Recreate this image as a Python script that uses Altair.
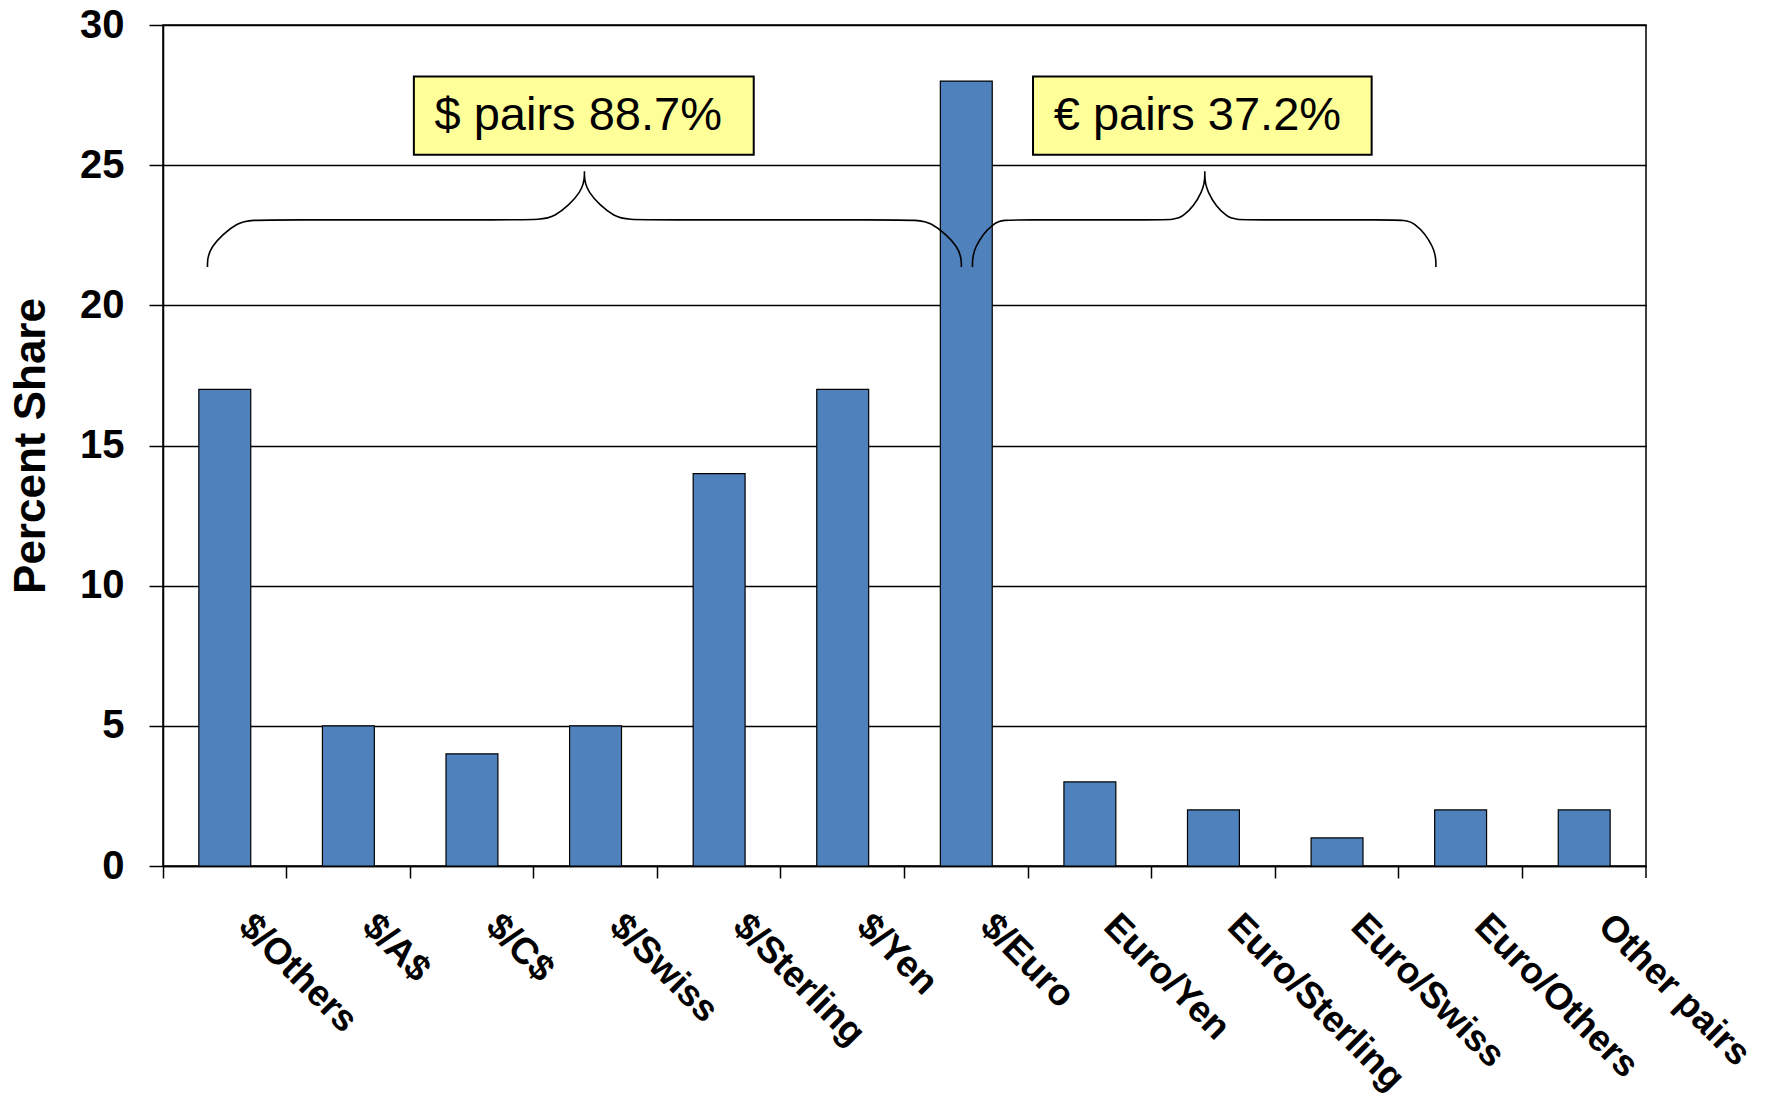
import altair as alt
import pandas as pd

# ---------------- data ----------------
categories = ["$/Others", "$/A$", "$/C$", "$/Swiss", "$/Sterling", "$/Yen", "$/Euro",
              "Euro/Yen", "Euro/Sterling", "Euro/Swiss", "Euro/Others", "Other pairs"]
shares = [17, 5, 4, 5, 14, 17, 28, 3, 2, 1, 2, 2]

box_labels = ["$ pairs 88.7%", "€ pairs 37.2%"]
box_left = [2.03, 7.04]
box_right = [4.78, 9.78]
box_bottom = [25.37, 25.37]
box_top = [28.16, 28.16]
label_x = [3.36, 8.37]
label_y = [26.77, 26.77]

brace_start = [0.36, 6.55]
brace_tip = [3.41, 8.43]
brace_end = [6.46, 10.30]
brace_arc = [0.42, 0.30]
brace_low = 21.37
brace_mid = 23.05
brace_top = 24.78

# ---------------- tables ----------------
df = pd.DataFrame({"pair": categories, "share": shares})

hl = brace_mid - brace_low
ht = brace_top - brace_mid
rows = []
for b, (s, t, e, w) in enumerate(zip(brace_start, brace_tip, brace_end, brace_arc)):
    pts = [(s, brace_low), (s, brace_mid - 0.6 * hl), (s + 0.6 * w, brace_mid), (s + w, brace_mid),
           (t - w, brace_mid), (t - 0.6 * w, brace_mid), (t, brace_mid + 0.6 * ht),
           (t, brace_top), (t, brace_top), (t, brace_top),
           (t, brace_mid + 0.6 * ht), (t + 0.6 * w, brace_mid), (t + w, brace_mid),
           (e - w, brace_mid), (e - 0.6 * w, brace_mid), (e, brace_mid - 0.6 * hl), (e, brace_low)]
    for k, (x, y) in enumerate(pts):
        rows.append({"brace": b, "k": k, "x": x, "y": y})
bdf = pd.DataFrame(rows)

boxdf = pd.DataFrame({"label": box_labels, "x1": box_left, "x2": box_right,
                      "y1": box_bottom, "y2": box_top, "tx": label_x, "ty": label_y})

W, H = 1483, 841
FONT = "Liberation Sans"

yscale = alt.Scale(domain=[0, 30], nice=False, zero=True)
xq = alt.Scale(domain=[0, 12], nice=False, zero=False)

yaxis = alt.Axis(title="Percent Share", values=[0, 5, 10, 15, 20, 25, 30],
                 grid=True, gridColor="black", gridWidth=1.5,
                 domainColor="black", domainWidth=1.5,
                 tickColor="black", tickSize=14, tickWidth=1.5,
                 labelFontSize=40, labelFontWeight="bold", labelColor="black", labelPadding=25,
                 titleFontSize=44, titleFontWeight="bold", titleColor="black",
                 titlePadding=26)

bars = alt.Chart(df).mark_bar(color="#4F81BD", stroke="black", strokeWidth=1.2,
                              width=alt.RelativeBandSize(0.42)).encode(
    x=alt.X("pair:N", sort=categories,
            scale=alt.Scale(paddingInner=0, paddingOuter=0),
            axis=alt.Axis(title=None, labelAngle=45, labelAlign="left", labelBaseline="middle",
                          labelFontSize=37, labelFontWeight="bold", labelColor="black",
                          labelPadding=42, labelOffset=20, labelOverlap=False, labelLimit=0,
                          labelBound=False, labelFlush=False,
                          tickSize=12, tickColor="black", tickWidth=1.5, bandPosition=0,
                          domainColor="black", domainWidth=1.5, grid=False)),
    y=alt.Y("share:Q", scale=yscale, axis=yaxis),
)

braces = alt.Chart(bdf).mark_line(color="black", strokeWidth=1.6, interpolate="basis").encode(
    x=alt.X("x:Q", scale=xq, axis=None),
    y=alt.Y("y:Q", scale=yscale, axis=yaxis),
    detail="brace:N",
    order="k:Q",
)

boxes = alt.Chart(boxdf).mark_rect(fill="#FFFF99", stroke="black", strokeWidth=2).encode(
    x=alt.X("x1:Q", scale=xq, axis=None), x2="x2:Q",
    y=alt.Y("y1:Q", scale=yscale, axis=yaxis), y2="y2:Q",
)

texts = alt.Chart(boxdf).mark_text(fontSize=47, font=FONT, align="center", baseline="middle",
                                   color="black").encode(
    x=alt.X("tx:Q", scale=xq, axis=None),
    y=alt.Y("ty:Q", scale=yscale, axis=yaxis),
    text="label:N",
)

end_tick = alt.Chart(pd.DataFrame({"a": [0]})).mark_rule(color="black", strokeWidth=1.5).encode(
    x=alt.value(W), y=alt.value(H), y2=alt.value(H + 12)
)

chart = alt.layer(bars, braces, boxes, texts, end_tick).resolve_scale(
    x="independent"
).properties(
    width=W, height=H,
    autosize=alt.AutoSizeParams(type="none"),
    padding={"left": 163, "top": 25, "right": 1768 - 163 - W, "bottom": 1110 - 25 - H},
    background="white",
).configure_view(
    stroke="black", strokeWidth=1.5
).configure_axis(
    labelFont=FONT, titleFont=FONT
)

chart.save("out.html", embed_options={"renderer": "svg", "actions": False})
